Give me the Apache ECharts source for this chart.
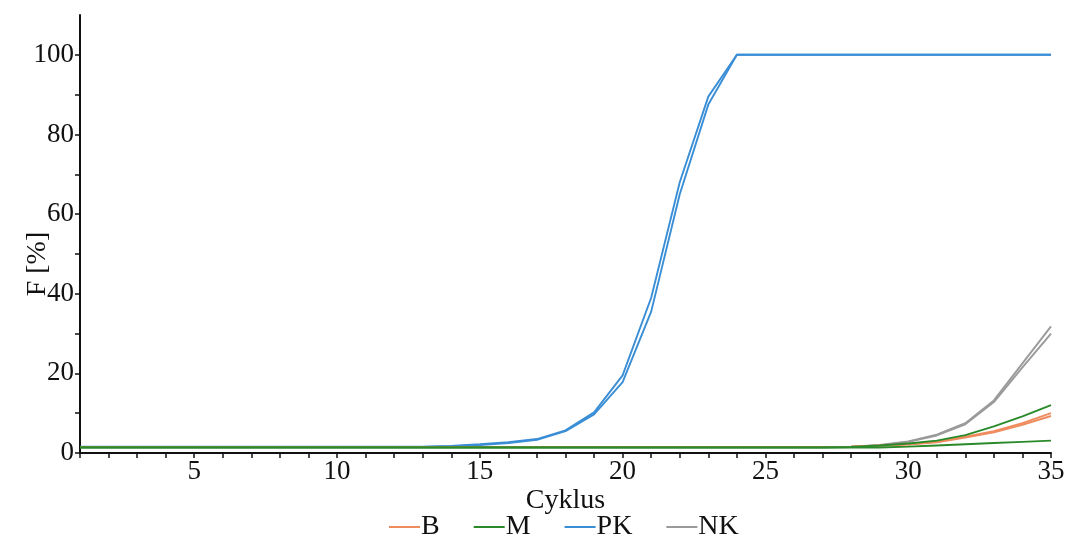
<!DOCTYPE html>
<html>
<head>
<meta charset="utf-8">
<script src="https://cdn.jsdelivr.net/npm/echarts@6/dist/echarts.min.js"></script>
<style>html,body{margin:0;padding:0;background:#fff;}#c{width:1069px;height:543px;}</style>
</head>
<body>
<div id="c"></div>
<script>
var cycles = [1,2,3,4,5,6,7,8,9,10,11,12,13,14,15,16,17,18,19,20,21,22,23,24,25,26,27,28,29,30,31,32,33,34,35];
var xLabelValues = [5,10,15,20,25,30,35];
var yLabelValues = [0,20,40,60,80,100];
var yTickValues = [0,10,20,30,40,50,60,70,80,90,100];

var B1 = [1.5,1.5,1.5,1.5,1.5,1.5,1.5,1.5,1.5,1.5,1.5,1.5,1.5,1.5,1.5,1.5,1.5,1.5,1.5,1.5,1.5,1.5,1.5,1.5,1.5,1.5,1.5,1.6,1.9,2.2,2.8,4.1,5.5,7.5,10.0];
var B2 = [1.5,1.5,1.5,1.5,1.5,1.5,1.5,1.5,1.5,1.5,1.5,1.5,1.5,1.5,1.5,1.5,1.5,1.5,1.5,1.5,1.5,1.5,1.5,1.5,1.5,1.5,1.5,1.6,1.8,2.1,2.7,3.9,5.2,7.1,9.3];
var M1 = [1.4,1.4,1.4,1.4,1.4,1.4,1.4,1.4,1.4,1.4,1.4,1.4,1.4,1.4,1.4,1.4,1.4,1.4,1.4,1.4,1.4,1.4,1.4,1.4,1.4,1.4,1.4,1.5,1.9,2.4,3.1,4.5,6.7,9.2,12.0];
var M2 = [1.4,1.4,1.4,1.4,1.4,1.4,1.4,1.4,1.4,1.4,1.4,1.4,1.4,1.4,1.4,1.4,1.4,1.4,1.4,1.4,1.4,1.4,1.4,1.4,1.4,1.4,1.4,1.4,1.4,1.6,1.9,2.2,2.5,2.8,3.1];
var PK1 = [1.6,1.6,1.6,1.6,1.6,1.6,1.6,1.6,1.6,1.6,1.6,1.6,1.6,1.8,2.2,2.7,3.5,5.7,10.2,19.5,39,68,89.5,100,100,100,100,100,100,100,100,100,100,100,100];
var PK2 = [1.5,1.5,1.5,1.5,1.5,1.5,1.5,1.5,1.5,1.5,1.5,1.5,1.5,1.7,2.0,2.5,3.3,5.5,9.7,17.8,35.5,65,87.5,100,100,100,100,100,100,100,100,100,100,100,100];
var NK1 = [1.5,1.5,1.5,1.5,1.5,1.5,1.5,1.5,1.5,1.5,1.5,1.5,1.5,1.5,1.5,1.5,1.5,1.5,1.5,1.5,1.5,1.5,1.5,1.5,1.5,1.5,1.5,1.6,2.0,2.9,4.6,7.5,13.2,22.5,31.8];
var NK2 = [1.5,1.5,1.5,1.5,1.5,1.5,1.5,1.5,1.5,1.5,1.5,1.5,1.5,1.5,1.5,1.5,1.5,1.5,1.5,1.5,1.5,1.5,1.5,1.5,1.5,1.5,1.5,1.6,1.9,2.8,4.4,7.2,12.8,21.5,30.0];

var colB = '#ef8c5e', colM = '#2a8a2a', colPK = '#3a8ed6', colNK = '#9a9a9a';
var FONT = '"Liberation Serif", "Times New Roman", serif';

function pairs(vals){ return cycles.map(function(c,i){ return [c, vals[i]]; }); }
function mk(name, vals, color){
  return { name: name, type: 'line', data: pairs(vals), symbol: 'none', showSymbol: false,
           lineStyle: { color: color, width: 1.9 }, itemStyle: { color: color }, animation: false };
}

var chart = echarts.init(document.getElementById('c'));
chart.setOption({
  animation: false,
  backgroundColor: '#fff',
  grid: { left: 80, right: 18, top: 15, bottom: 90, containLabel: false, outerBoundsMode: 'none' },
  legend: {
    data: ['B','M','PK','NK'],
    top: 508, left: 384,
    icon: 'rect', itemWidth: 31, itemHeight: 2, itemGap: 34,
    textStyle: { fontFamily: FONT, fontSize: 28, color: '#111', padding: [0,0,0,-4] }
  },
  xAxis: {
    type: 'value', min: 1, max: 35,
    name: 'Cyklus', nameLocation: 'middle', nameGap: 34, nameMoveOverlap: false,
    nameTextStyle: { fontFamily: FONT, fontSize: 28, color: '#111' },
    axisLine: { lineStyle: { color: '#111', width: 2 } },
    axisTick: { show: true, customValues: cycles, length: 5, lineStyle: { color: '#111', width: 1.5 } },
    axisLabel: { customValues: xLabelValues, fontFamily: FONT, fontSize: 27, color: '#111', margin: 5 },
    splitLine: { show: false }
  },
  yAxis: {
    type: 'value', min: 0, max: 110,
    name: 'F [%]', nameLocation: 'middle', nameGap: 28, nameRotate: 90, nameMoveOverlap: false,
    nameTextStyle: { fontFamily: FONT, fontSize: 28, color: '#111', padding: [0, 60, 0, 0] },
    axisLine: { show: true, lineStyle: { color: '#111', width: 2 } },
    axisTick: { show: true, customValues: yTickValues, length: 5, lineStyle: { color: '#111', width: 1.5 } },
    axisLabel: { customValues: yLabelValues, fontFamily: FONT, fontSize: 27, color: '#111', margin: 6 },
    splitLine: { show: false }
  },
  series: [
    mk('NK', NK1, colNK), mk('NK', NK2, colNK),
    mk('PK', PK1, colPK), mk('PK', PK2, colPK),
    mk('B', B1, colB), mk('B', B2, colB),
    mk('M', M1, colM), mk('M', M2, colM)
  ]
});
</script>
</body>
</html>
